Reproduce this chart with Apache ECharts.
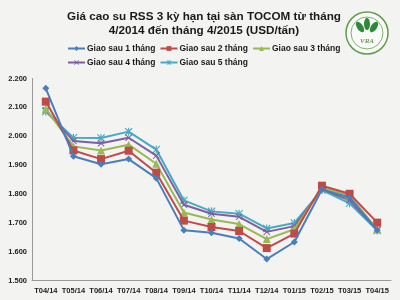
<!DOCTYPE html>
<html><head><meta charset="utf-8">
<script src="https://cdn.jsdelivr.net/npm/echarts@6/dist/echarts.min.js"></script>
<style>html,body{margin:0;padding:0;background:#f3f3f1}#c{width:400px;height:300px}</style>
</head><body><div id="c"></div>
<script>
var categories = ['T04/14','T05/14','T06/14','T07/14','T08/14','T09/14','T10/14','T11/14','T12/14','T01/15','T02/15','T03/15','T04/15'];
var seriesNames = ['Giao sau 1 tháng','Giao sau 2 tháng','Giao sau 3 tháng','Giao sau 4 tháng','Giao sau 5 tháng'];
var s1 = [2166, 1931, 1903, 1921, 1855, 1675, 1666, 1646, 1575, 1634, 1816, 1788, 1675];
var s2 = [2120, 1951, 1921, 1950, 1874, 1708, 1686, 1672, 1613, 1663, 1829, 1801, 1701];
var s3 = [2095, 1965, 1951, 1971, 1905, 1736, 1712, 1696, 1644, 1678, 1822, 1795, 1678];
var s4 = [2090, 1984, 1976, 1995, 1933, 1763, 1732, 1721, 1669, 1689, 1817, 1778, 1676];
var s5 = [2086, 1995, 1994, 2016, 1954, 1778, 1740, 1732, 1681, 1700, 1814, 1768, 1674];
var yTicks = ['1.500','1.600','1.700','1.800','1.900','2.000','2.100','2.200'];

var colors = ['#4a7ebb','#be4b48','#98b954','#7d60a0','#46aac5'];
var crossPath = 'path://M0,1 L1,0 L5,4 L9,0 L10,1 L6,5 L10,9 L9,10 L5,6 L1,10 L0,9 L4,5 Z';
var starPath = 'path://M0,1 L1,0 L5,4 L9,0 L10,1 L6,5 L10,9 L9,10 L5,6 L1,10 L0,9 L4,5 Z M4.3,0 L5.7,0 L5.7,10 L4.3,10 Z';
var symbols = ['diamond','rect','triangle',crossPath,starPath];
var sizes = [7,8,8,7,8];
var allData = [s1,s2,s3,s4,s5];

var chart = echarts.init(document.getElementById('c'), null, {renderer:'canvas'});
var font = 'Liberation Sans, Arial, sans-serif';
var series = allData.map(function(d,i){
  return {
    name: seriesNames[i], type:'line', data:d,
    symbol: symbols[i], symbolSize: sizes[i],
    lineStyle:{color:colors[i], width:2},
    itemStyle:{color:colors[i]},
    z: 10 - i
  };
});
chart.setOption({
  backgroundColor:'#f3f3f1',
  animation:false,
  color: colors,
  title:{
    text:'Giá cao su RSS 3 kỳ hạn tại sàn TOCOM từ tháng\n4/2014 đến tháng 4/2015 (USD/tấn)',
    left:199, textAlign:'center', top:5,
    textStyle:{fontFamily:font, fontSize:11.7, fontWeight:'bold', color:'#1a1a1a', lineHeight:14}
  },
  legend:[{
    data: seriesNames.slice(0,3), left:67, top:44, itemGap:4, itemWidth:17, itemHeight:6, padding:0,
    textStyle:{fontFamily:font, fontSize:8.5, fontWeight:'bold', color:'#1a1a1a', padding:[0,0,0,-3]}
  },{
    data: seriesNames.slice(3), left:67, top:58, itemGap:4, itemWidth:17, itemHeight:6, padding:0,
    textStyle:{fontFamily:font, fontSize:8.5, fontWeight:'bold', color:'#1a1a1a', padding:[0,0,0,-3]}
  }],
  grid:{left:32, right:9, top:78.5, bottom:19.3},
  xAxis:{
    type:'category', data:categories, boundaryGap:true,
    axisLine:{lineStyle:{color:'#999'}}, axisTick:{show:false},
    axisLabel:{fontFamily:font, fontSize:7.5, fontWeight:'bold', color:'#222', margin:6, interval:0}
  },
  yAxis:{
    type:'value', min:1500, max:2200, interval:100,
    axisLine:{show:true, lineStyle:{color:'#999'}}, axisTick:{show:false}, splitLine:{show:false},
    axisLabel:{fontFamily:font, fontSize:7.5, fontWeight:'bold', color:'#222', margin:5,
      formatter:function(v){ return yTicks[Math.round((v-1500)/100)]; }}
  },
  graphic:[
    {type:'circle', shape:{cx:367, cy:33, r:21}, style:{fill:'#fafaf8', stroke:'#5e9e4c', lineWidth:1.5}},
    {type:'circle', shape:{cx:367, cy:33, r:16}, style:{fill:'none', stroke:'#7fb36d', lineWidth:1}},
    {type:'ellipse', shape:{cx:360, cy:27, rx:3, ry:6}, rotation:0.6, originX:360, originY:27, style:{fill:'#2e8a3a'}},
    {type:'ellipse', shape:{cx:367, cy:24, rx:3, ry:6}, style:{fill:'#2e8a3a'}},
    {type:'ellipse', shape:{cx:374, cy:27, rx:3, ry:6}, rotation:-0.6, originX:374, originY:27, style:{fill:'#2e8a3a'}},
    {type:'text', style:{text:'VRA', x:367, y:41, fill:'#6a9a5a', font:'italic bold 7px Liberation Serif', textAlign:'center', textVerticalAlign:'middle'}}
  ],
  series: series
});
</script></body></html>
